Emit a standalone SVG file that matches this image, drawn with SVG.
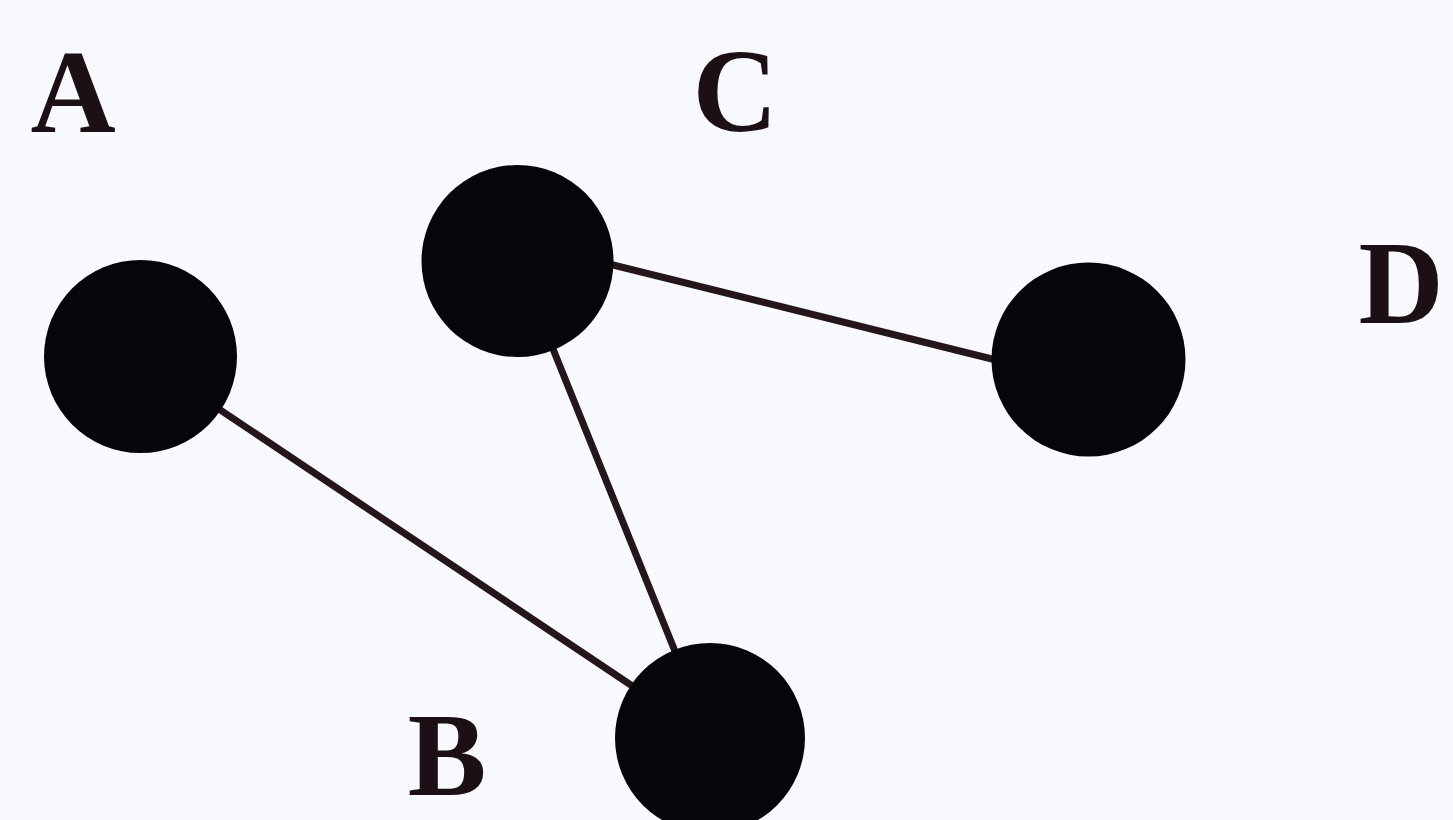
<svg xmlns="http://www.w3.org/2000/svg" width="1453" height="820" viewBox="0 0 1453 820">
  <style>
    .edge { stroke: #24161c; stroke-width: 7; stroke-linecap: round; fill: none; }
    .node { fill: #070509; }
    .label { font-family: "Liberation Serif", "Times New Roman", serif; font-weight: 700; font-size: 118px; fill: #1c1016; text-anchor: middle; }
  </style>
  <rect x="0" y="0" width="1453" height="820" fill="#f7f9fc"/>
  <g id="connectors">
    <line class="edge" x1="140.5" y1="356.5" x2="710" y2="738"/>
    <line class="edge" x1="517.5" y1="261" x2="710" y2="738"/>
    <line class="edge" x1="605" y1="263" x2="1000" y2="361"/>
  </g>
  <g id="node-A">
    <circle class="node" cx="140.5" cy="356.5" r="96.5"/>
    <text class="label" x="73" y="132">A</text>
  </g>
  <g id="node-C">
    <circle class="node" cx="517.5" cy="261" r="96"/>
    <text class="label" x="735" y="131">C</text>
  </g>
  <g id="node-D">
    <circle class="node" cx="1088.5" cy="359.5" r="97"/>
    <text class="label" x="1401" y="323">D</text>
  </g>
  <g id="node-B">
    <circle class="node" cx="710" cy="738" r="95"/>
    <text class="label" x="447" y="795">B</text>
  </g>
</svg>
